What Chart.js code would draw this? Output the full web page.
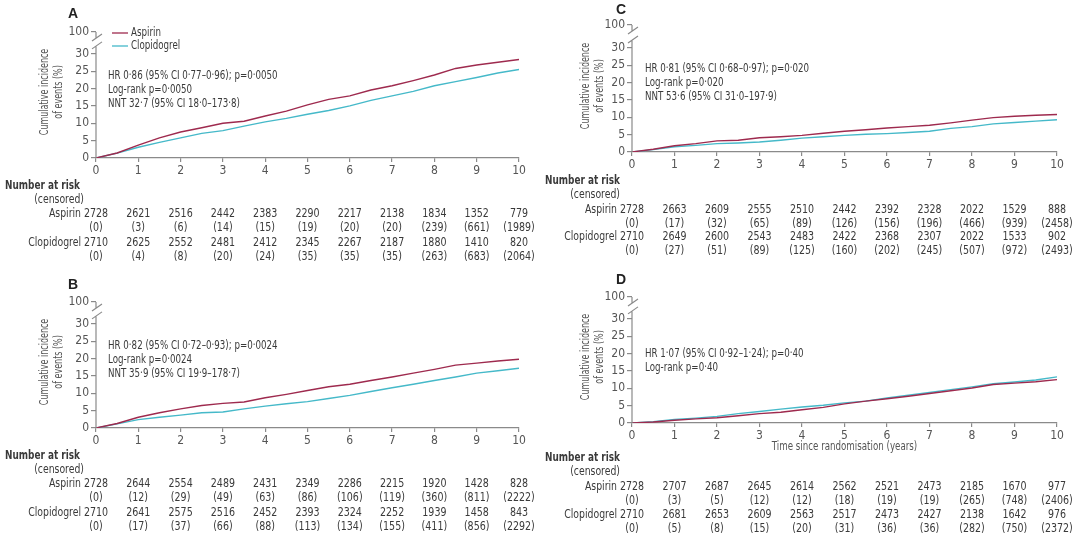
<!DOCTYPE html>
<html>
<head>
<meta charset="utf-8">
<script src="https://cdn.jsdelivr.net/npm/chart.js@4.4.1/dist/chart.umd.min.js"></script>
<style>
  html, body { margin: 0; padding: 0; background: #fff; }
  #wrap { position: relative; width: 1080px; height: 537px; overflow: hidden; }
  canvas { position: absolute; }
</style>
</head>
<body>
<div id="wrap">
  <canvas id="chartA" width="540" height="270" style="left:0;top:0"></canvas>
  <canvas id="chartB" width="540" height="267" style="left:0;top:270px"></canvas>
  <canvas id="chartC" width="540" height="270" style="left:540px;top:0"></canvas>
  <canvas id="chartD" width="540" height="267" style="left:540px;top:270px"></canvas>
</div>
<script>
// 时间点（年）
const years = [0, 0.5, 1, 1.5, 2, 2.5, 3, 3.5, 4, 4.5, 5, 5.5, 6, 6.5, 7, 7.5, 8, 8.5, 9, 9.5, 10];
const tickYears = [0, 1, 2, 3, 4, 5, 6, 7, 8, 9, 10];
const yTickValues = [0, 5, 10, 15, 20, 25, 30];

// 累计发生率 (%)
const aspirinA     = [0, 1.45, 3.7, 5.8, 7.5, 8.7, 10.0, 10.6, 12.1, 13.5, 15.3, 16.9, 17.9, 19.6, 20.8, 22.3, 23.9, 25.8, 26.8, 27.6, 28.4];
const clopidogrelA = [0, 1.4, 3.1, 4.5, 5.8, 7.1, 7.9, 9.2, 10.4, 11.4, 12.6, 13.7, 15.0, 16.6, 17.9, 19.2, 20.8, 22.0, 23.2, 24.5, 25.5];
const aspirinB     = [0, 1.3, 3.1, 4.4, 5.5, 6.5, 7.1, 7.5, 8.7, 9.7, 10.8, 11.9, 12.6, 13.7, 14.7, 15.8, 16.9, 18.1, 18.7, 19.3, 19.8];
const clopidogrelB = [0, 1.2, 2.4, 3.1, 3.7, 4.4, 4.6, 5.5, 6.3, 7.0, 7.6, 8.5, 9.4, 10.5, 11.6, 12.6, 13.7, 14.7, 15.8, 16.5, 17.2];
const aspirinC     = [0, 0.8, 1.8, 2.4, 3.2, 3.4, 4.1, 4.4, 4.8, 5.4, 6.0, 6.4, 6.9, 7.3, 7.7, 8.4, 9.2, 9.9, 10.3, 10.6, 10.8];
const clopidogrelC = [0, 0.7, 1.5, 1.9, 2.4, 2.6, 2.9, 3.4, 4.0, 4.4, 4.8, 5.1, 5.3, 5.6, 6.0, 6.8, 7.3, 8.1, 8.5, 8.9, 9.3];
const aspirinD     = [0, 0.3, 0.8, 1.2, 1.5, 2.1, 2.7, 3.1, 3.8, 4.5, 5.5, 6.3, 7.0, 7.7, 8.5, 9.3, 10.1, 11.1, 11.5, 11.9, 12.5];
const clopidogrelD = [0, 0.4, 1.0, 1.4, 1.9, 2.7, 3.3, 4.0, 4.6, 5.1, 5.8, 6.3, 7.2, 8.0, 8.8, 9.6, 10.4, 11.3, 11.8, 12.4, 13.3];

// 风险人数及删失人数
const riskAspirinA = [2728, 2621, 2516, 2442, 2383, 2290, 2217, 2138, 1834, 1352, 779];
const censAspirinA = [0, 3, 6, 14, 15, 19, 20, 20, 239, 661, 1989];
const riskClopA    = [2710, 2625, 2552, 2481, 2412, 2345, 2267, 2187, 1880, 1410, 820];
const censClopA    = [0, 4, 8, 20, 24, 35, 35, 35, 263, 683, 2064];
const riskAspirinB = [2728, 2644, 2554, 2489, 2431, 2349, 2286, 2215, 1920, 1428, 828];
const censAspirinB = [0, 12, 29, 49, 63, 86, 106, 119, 360, 811, 2222];
const riskClopB    = [2710, 2641, 2575, 2516, 2452, 2393, 2324, 2252, 1939, 1458, 843];
const censClopB    = [0, 17, 37, 66, 88, 113, 134, 155, 411, 856, 2292];
const riskAspirinC = [2728, 2663, 2609, 2555, 2510, 2442, 2392, 2328, 2022, 1529, 888];
const censAspirinC = [0, 17, 32, 65, 89, 126, 156, 196, 466, 939, 2458];
const riskClopC    = [2710, 2649, 2600, 2543, 2483, 2422, 2368, 2307, 2022, 1533, 902];
const censClopC    = [0, 27, 51, 89, 125, 160, 202, 245, 507, 972, 2493];
const riskAspirinD = [2728, 2707, 2687, 2645, 2614, 2562, 2521, 2473, 2185, 1670, 977];
const censAspirinD = [0, 3, 5, 12, 12, 18, 19, 19, 265, 748, 2406];
const riskClopD    = [2710, 2681, 2653, 2609, 2563, 2517, 2473, 2427, 2138, 1642, 976];
const censClopD    = [0, 5, 8, 15, 20, 31, 36, 36, 282, 750, 2372];

const statsA = ['HR 0·86 (95% CI 0·77–0·96); p=0·0050', 'Log-rank p=0·0050', 'NNT 32·7 (95% CI 18·0–173·8)'];
const statsB = ['HR 0·82 (95% CI 0·72–0·93); p=0·0024', 'Log-rank p=0·0024', 'NNT 35·9 (95% CI 19·9–178·7)'];
const statsC = ['HR 0·81 (95% CI 0·68–0·97); p=0·020', 'Log-rank p=0·020', 'NNT 53·6 (95% CI 31·0–197·9)'];
const statsD = ['HR 1·07 (95% CI 0·92–1·24); p=0·40', 'Log-rank p=0·40'];

const ASP = '#9e2a4e';
const CLO = '#45b9c9';
const AXIS = '#8a8a8a';
const TEXT = '#3a3a3a';
const FONT = "'DejaVu Sans Condensed', 'Liberation Sans', sans-serif";

// 横向压缩的文字（模仿原图的窄体字）
function narrowText(ctx, text, x, y, sx) {
    ctx.save();
    ctx.translate(x, y);
    ctx.scale(sx, 1);
    ctx.fillText(text, 0, 0);
    ctx.restore();
}

// 自定义绘制：断轴、标题、注释、图例、风险表
const panelPlugin = {
    id: 'panel',
    afterDraw(chart, args, cfg) {
        const ctx = chart.ctx;
        const xs = chart.scales.x;
        const ys = chart.scales.y;
        const area = chart.chartArea;
        const x0 = xs.getPixelForValue(0);
        const top = area.top;
        const p30 = ys.getPixelForValue(30);
        const b1 = top + 6, b2 = p30 - 8;

        ctx.save();
        // 断开的 y 轴
        ctx.strokeStyle = AXIS;
        ctx.lineWidth = 1.2;
        ctx.beginPath();
        ctx.moveTo(x0, area.bottom);
        ctx.lineTo(x0, b2);
        ctx.moveTo(x0, b1);
        ctx.lineTo(x0, top);
        ctx.moveTo(x0 - 4, b1 + 3);
        ctx.lineTo(x0 + 6, b1 - 4);
        ctx.moveTo(x0 - 4, b2 + 3);
        ctx.lineTo(x0 + 6, b2 - 4);
        ctx.stroke();

        // 面板字母
        ctx.fillStyle = '#222';
        ctx.font = "bold 14px 'Liberation Sans', sans-serif";
        ctx.textAlign = 'center';
        ctx.textBaseline = 'middle';
        ctx.fillText(cfg.letter, cfg.letterX, cfg.letterY);

        // y 轴标题
        ctx.fillStyle = '#555';
        ctx.font = '12px ' + FONT;
        const cy = (area.bottom + p30) / 2 - 14;
        ctx.save();
        ctx.translate(cfg.titleX, cy);
        ctx.rotate(-Math.PI / 2);
        narrowText(ctx, 'Cumulative incidence', 0, 0, 0.74);
        narrowText(ctx, 'of events (%)', 0, 14, 0.74);
        ctx.restore();

        // 统计注释
        ctx.fillStyle = TEXT;
        ctx.font = '11.5px ' + FONT;
        ctx.textAlign = 'left';
        cfg.stats.forEach((s, i) => narrowText(ctx, s, cfg.statsX, cfg.statsY + i * 14, 0.84));

        // 图例
        if (cfg.legend) {
            [['Aspirin', ASP], ['Clopidogrel', CLO]].forEach(([name, col], i) => {
                const ly = top + 1 + i * 13;
                ctx.strokeStyle = col;
                ctx.lineWidth = 1.3;
                ctx.beginPath();
                ctx.moveTo(x0 + 16, ly);
                ctx.lineTo(x0 + 32, ly);
                ctx.stroke();
                ctx.fillStyle = TEXT;
                narrowText(ctx, name, x0 + 35, ly, 0.84);
            });
        }

        // x 轴标题
        if (cfg.xTitle) {
            ctx.fillStyle = '#555';
            ctx.textAlign = 'center';
            narrowText(ctx, cfg.xTitle, (area.left + area.right) / 2, cfg.xTitleY, 0.84);
        }

        // 风险表
        const r = cfg.rows;
        const labelX = x0 - 15;
        ctx.fillStyle = TEXT;
        ctx.font = 'bold 11.5px ' + FONT;
        ctx.textAlign = 'left';
        narrowText(ctx, 'Number at risk', 5, r[0], 0.86);
        ctx.font = '11.5px ' + FONT;
        ctx.textAlign = 'right';
        narrowText(ctx, '(censored)', labelX + 3, r[1], 0.9);
        narrowText(ctx, 'Aspirin', labelX, r[2], 0.9);
        narrowText(ctx, 'Clopidogrel', labelX, r[4], 0.9);
        ctx.textAlign = 'center';
        tickYears.forEach((t, i) => {
            const px = xs.getPixelForValue(t);
            narrowText(ctx, String(cfg.risk[0][i]), px, r[2], 0.92);
            narrowText(ctx, '(' + cfg.risk[1][i] + ')', px, r[3], 0.92);
            narrowText(ctx, String(cfg.risk[2][i]), px, r[4], 0.92);
            narrowText(ctx, '(' + cfg.risk[3][i] + ')', px, r[5], 0.92);
        });
        ctx.restore();
    }
};

function createPanel(canvasId, aspirin, clopidogrel, cfg) {
    const ctx = document.getElementById(canvasId).getContext('2d');

    const datasets = [
        { label: 'Aspirin', data: years.map((t, i) => ({ x: t, y: aspirin[i] })), borderColor: ASP },
        { label: 'Clopidogrel', data: years.map((t, i) => ({ x: t, y: clopidogrel[i] })), borderColor: CLO }
    ].map(d => ({ ...d, borderWidth: 1.4, pointRadius: 0, tension: 0, fill: false }));

    return new Chart(ctx, {
        type: 'line',
        data: { datasets: datasets },
        options: {
            responsive: false,
            animation: false,
            devicePixelRatio: 1,
            layout: { padding: cfg.padding },
            plugins: {
                legend: { display: false },
                tooltip: { enabled: false },
                panel: cfg
            },
            scales: {
                x: {
                    type: 'linear',
                    min: 0,
                    max: 10,
                    afterFit: s => { s.height = 24; },
                    afterBuildTicks: s => { s.ticks = tickYears.map(v => ({ value: v })); },
                    border: { color: AXIS, width: 1.2 },
                    grid: { drawOnChartArea: false, drawTicks: true, tickLength: 4, color: AXIS, lineWidth: 1.2 },
                    ticks: { autoSkip: false, maxRotation: 0, padding: 2, color: '#555', font: { family: FONT, size: 12 } }
                },
                y: {
                    type: 'linear',
                    min: 0,
                    max: cfg.yTop,
                    afterFit: s => { s.width = 40; },
                    afterBuildTicks: s => { s.ticks = yTickValues.concat([cfg.yTop]).map(v => ({ value: v })); },
                    border: { display: false },
                    grid: { drawOnChartArea: false, drawTicks: true, tickLength: 5, color: AXIS, lineWidth: 1.2 },
                    ticks: {
                        padding: 2,
                        color: '#555',
                        font: { family: FONT, size: 12 },
                        callback: v => (v > 30 ? '100' : v)
                    }
                }
            }
        },
        plugins: [panelPlugin]
    });
}

createPanel('chartA', aspirinA, clopidogrelA, {
    letter: 'A', letterX: 73, letterY: 14, legend: true,
    padding: { left: 56, right: 21, top: 32, bottom: 88 }, yTop: 36.3,
    titleX: 45, stats: statsA, statsX: 108, statsY: 76,
    rows: [186, 200, 214, 228, 243, 257],
    risk: [riskAspirinA, censAspirinA, riskClopA, censClopA]
});
createPanel('chartB', aspirinB, clopidogrelB, {
    letter: 'B', letterX: 73, letterY: 15, legend: false,
    padding: { left: 56, right: 21, top: 32, bottom: 85 }, yTop: 36.3,
    titleX: 45, stats: statsB, statsX: 108, statsY: 76,
    rows: [186, 200, 214, 228, 243, 257],
    risk: [riskAspirinB, censAspirinB, riskClopB, censClopB]
});
createPanel('chartC', aspirinC, clopidogrelC, {
    letter: 'C', letterX: 81, letterY: 10, legend: false,
    padding: { left: 52, right: 23, top: 25, bottom: 94 }, yTop: 36.6,
    titleX: 46, stats: statsC, statsX: 105, statsY: 69,
    rows: [181, 195, 210, 224, 237, 251],
    risk: [riskAspirinC, censAspirinC, riskClopC, censClopC]
});
createPanel('chartD', aspirinD, clopidogrelD, {
    letter: 'D', letterX: 81, letterY: 10, legend: false,
    padding: { left: 52, right: 23, top: 27, bottom: 90 }, yTop: 36.3,
    titleX: 46, stats: statsD, statsX: 105, statsY: 84,
    xTitle: 'Time since randomisation (years)', xTitleY: 177,
    rows: [188, 202, 217, 231, 245, 259],
    risk: [riskAspirinD, censAspirinD, riskClopD, censClopD]
});
</script>
</body>
</html>
